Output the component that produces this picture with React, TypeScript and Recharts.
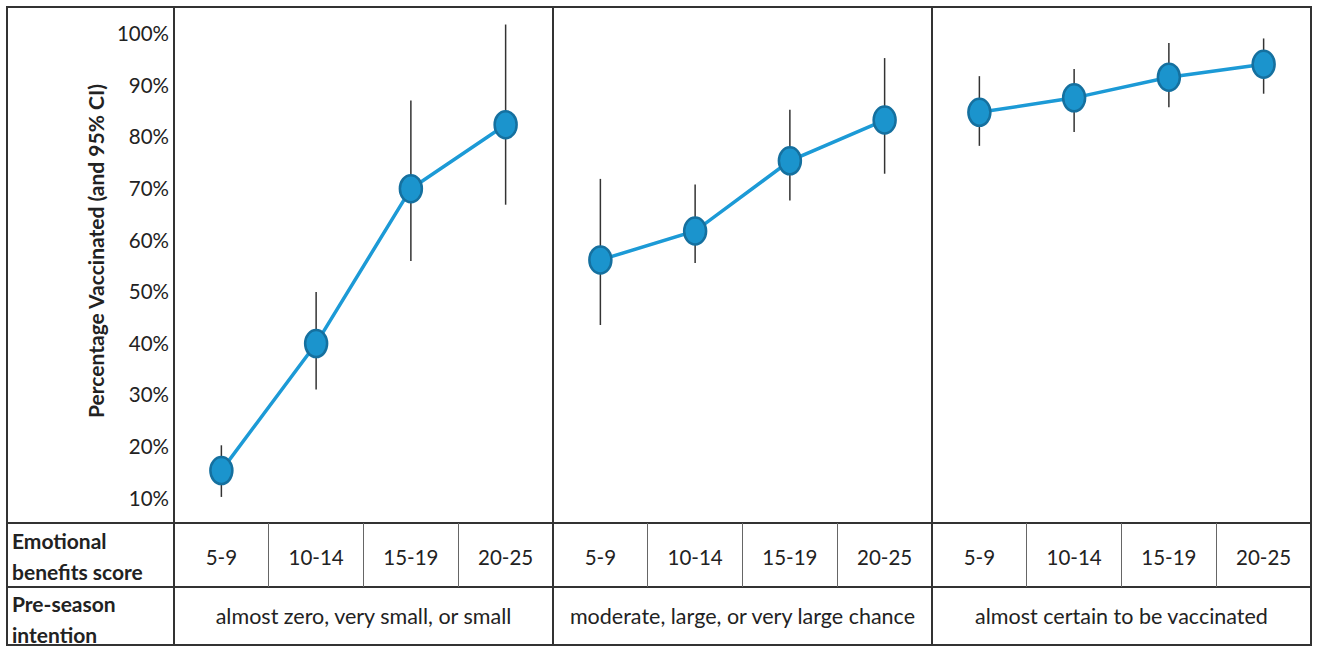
import React from "react";
import { ComposedChart, Line, XAxis, YAxis, ErrorBar } from "recharts";

const scoreBands = ["5-9", "10-14", "15-19", "20-25"];
const intentionGroups = [
  "almost zero, very small, or small",
  "moderate, large, or very large chance",
  "almost certain to be vaccinated",
];

// percentage vaccinated, and 95% CI bounds, per intention group
const lowValues = [15.4, 40.0, 70.0, 82.4];
const lowLower = [10.3, 31.1, 56.0, 66.9];
const lowUpper = [20.3, 50.0, 87.1, 101.8];

const midValues = [56.2, 61.8, 75.4, 83.3];
const midLower = [43.6, 55.6, 67.7, 72.9];
const midUpper = [71.9, 70.8, 85.3, 95.3];

const highValues = [84.8, 87.6, 91.6, 94.1];
const highLower = [78.3, 81.0, 85.8, 88.4];
const highUpper = [91.8, 93.2, 98.2, 99.1];

const yTicks = [10, 20, 30, 40, 50, 60, 70, 80, 90, 100];

const W = 1318;
const H = 650;
const PLOT_L = 174;
const PLOT_R = 1311;
const PLOT_T = 8;
const PLOT_B = 523;
const ROW2_T = 587;
const BOTTOM = 645;
const FONT = "Lato, 'Open Sans', sans-serif";
const LINE = "#333";

const series = [
  { values: lowValues, lower: lowLower, upper: lowUpper },
  { values: midValues, lower: midLower, upper: midUpper },
  { values: highValues, lower: highLower, upper: highUpper },
].map((s, g) =>
  s.values.map((v, i) => ({
    x: g * 4 + i + 0.5,
    y: v,
    err: [+(v - s.lower[i]).toFixed(2), +(s.upper[i] - v).toFixed(2)],
  }))
);

const xTicks = Array.from({ length: 12 }, (_, i) => i + 0.5);
const unit = (PLOT_R - PLOT_L) / 12;

function Dot(props: { cx?: number; cy?: number }) {
  const { cx, cy } = props;
  if (cx == null || cy == null) return null;
  return <ellipse cx={cx} cy={cy} rx={11} ry={13.5} fill="#1B94CD" stroke="#15709F" strokeWidth={2.5} />;
}

function YTitle() {
  return (
    <text
      x={95}
      y={251}
      transform="rotate(-90 95 251)"
      textAnchor="middle"
      dominantBaseline="central"
      fontFamily={FONT}
      fontWeight={700}
      fontSize={21}
      fill="#222"
    >
      Percentage Vaccinated (and 95% CI)
    </text>
  );
}

function hLine(y: number, key: string, w = 2) {
  return <div key={key} style={{ position: "absolute", left: 6, top: y - w / 2, width: PLOT_R - 6 + 1, height: w, background: LINE }} />;
}

function vLine(x: number, top: number, bottom: number, key: string, w = 2, color = LINE) {
  return <div key={key} style={{ position: "absolute", left: x - w / 2, top, width: w, height: bottom - top, background: color }} />;
}

export default function App() {
  const thin = [];
  for (let g = 0; g < 3; g++) {
    for (let k = 1; k < 4; k++) {
      const x = PLOT_L + (g * 4 + k) * unit;
      thin.push(vLine(x, PLOT_B, ROW2_T, `t${g}${k}`, 1, "#666"));
    }
  }
  const labelStyle: React.CSSProperties = {
    position: "absolute",
    left: 12,
    fontFamily: FONT,
    fontWeight: 700,
    fontSize: 21,
    lineHeight: "31px",
    color: "#222",
  };
  return (
    <div style={{ position: "absolute", left: 0, top: 0, width: W, height: H, background: "#fff" }}>
      {/* frame and table lines */}
      <div style={{ position: "absolute", left: 6, top: 6, width: PLOT_R - 6 - 3, height: BOTTOM - 6 - 3, border: `2px solid ${LINE}` }} />
      {vLine(PLOT_L, 6, BOTTOM, "v0")}
      {vLine(PLOT_L + 4 * unit, 6, BOTTOM, "v1")}
      {vLine(PLOT_L + 8 * unit, 6, BOTTOM, "v2")}
      {hLine(PLOT_B, "h0")}
      {hLine(ROW2_T, "h1")}
      {thin}

      <div style={{ ...labelStyle, top: 525 }}>Emotional<br />benefits score</div>
      <div style={{ ...labelStyle, top: 588 }}>Pre-season<br />intention</div>
      {intentionGroups.map((t, g) => (
        <div
          key={t}
          style={{
            position: "absolute",
            left: PLOT_L + g * 4 * unit,
            width: 4 * unit,
            top: ROW2_T,
            height: BOTTOM - ROW2_T,
            display: "flex",
            alignItems: "center",
            justifyContent: "center",
            fontFamily: FONT,
            fontSize: 21.5,
            color: "#222",
          }}
        >
          {t}
        </div>
      ))}

      <div style={{ position: "absolute", left: 0, top: 0 }}>
        <ComposedChart
          width={W}
          height={H}
          margin={{ top: PLOT_T, right: W - PLOT_R, left: PLOT_L - 100, bottom: H - PLOT_B - 60 }}
        >
          <XAxis
            type="number"
            dataKey="x"
            domain={[0, 12]}
            ticks={xTicks}
            tickFormatter={(v: number) => scoreBands[Math.floor(v) % 4]}
            axisLine={false}
            tickLine={false}
            tickSize={0}
            tickMargin={27}
            height={60}
            interval={0}
            tick={{ fontFamily: FONT, fontSize: 20.5, fill: "#222" }}
            allowDuplicatedCategory
          />
          <YAxis
            type="number"
            domain={[5.25, 105]}
            ticks={yTicks}
            tickFormatter={(v: number) => `${v}%`}
            axisLine={false}
            tickLine={false}
            tickSize={0}
            tickMargin={5}
            width={100}
            interval={0}
            tick={{ fontFamily: FONT, fontSize: 20.5, fill: "#222" }}
            allowDataOverflow
            label={{ content: () => <YTitle /> }}
          />
          {series.map((d, g) => (
            <Line
              key={g}
              data={d}
              dataKey="y"
              type="linear"
              stroke="#1C9AD6"
              strokeWidth={3.5}
              dot={<Dot />}
              activeDot={false}
              isAnimationActive={false}
            >
              <ErrorBar dataKey="err" width={0} stroke="#333" strokeWidth={1.5} direction="y" />
            </Line>
          ))}
        </ComposedChart>
      </div>
    </div>
  );
}
